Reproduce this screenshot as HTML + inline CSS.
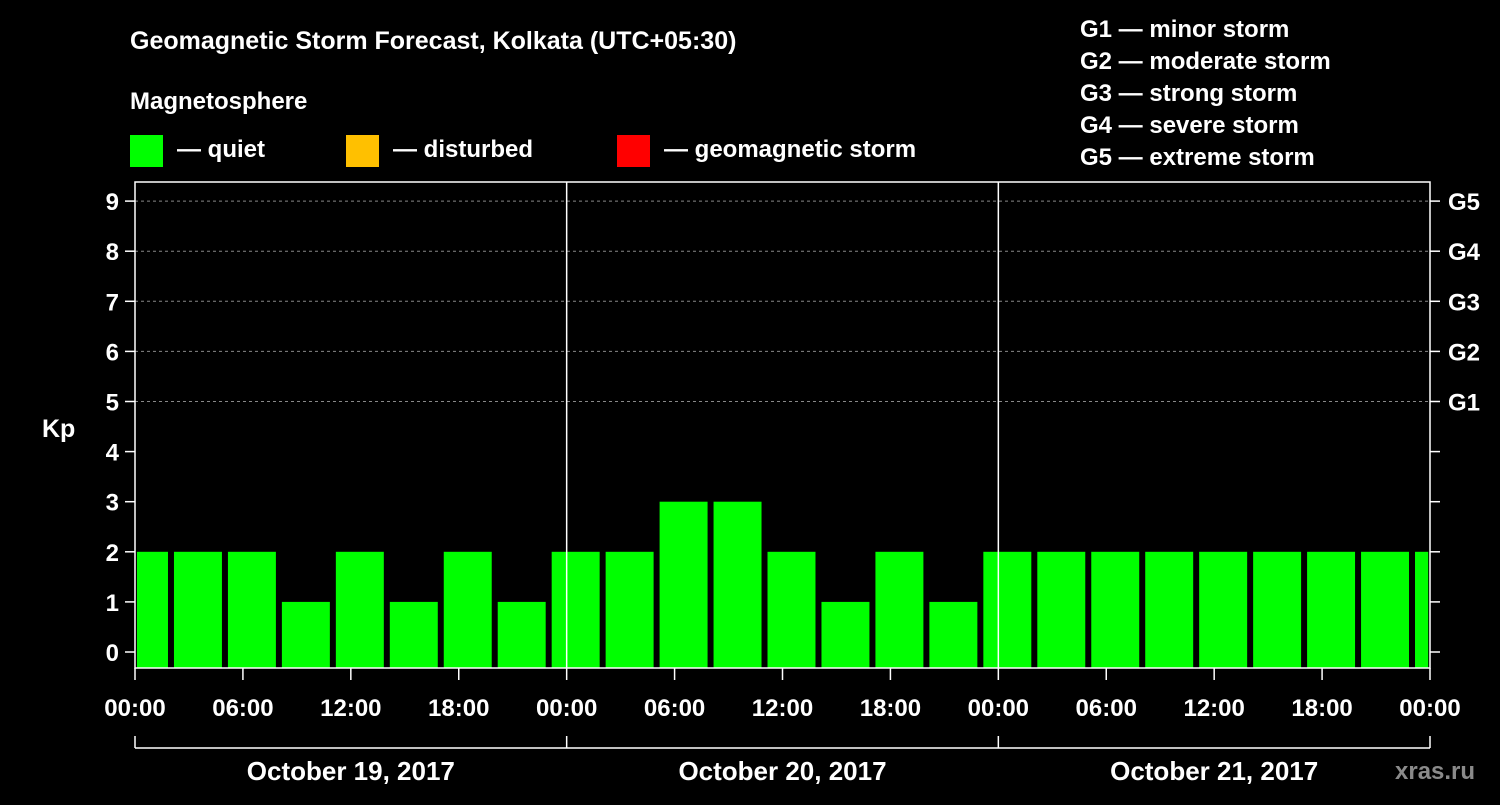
<!DOCTYPE html>
<html><head><meta charset="utf-8"><style>
body{margin:0;background:#000;width:1500px;height:800px;overflow:hidden}
svg text{font-family:"Liberation Sans",Arial,sans-serif;font-weight:bold;fill:#fff}
</style></head><body>
<svg id="c" width="1500" height="800" xmlns="http://www.w3.org/2000/svg">
<text x="130" y="49" font-size="25">Geomagnetic Storm Forecast, Kolkata (UTC+05:30)</text>
<text x="130" y="109" font-size="24">Magnetosphere</text>
<rect x="130" y="135" width="33" height="32" fill="#00ff00"/>
<text x="177" y="157" font-size="24">— quiet</text>
<rect x="346" y="135" width="33" height="32" fill="#ffc000"/>
<text x="393" y="157" font-size="24">— disturbed</text>
<rect x="617" y="135" width="33" height="32" fill="#ff0000"/>
<text x="664" y="157" font-size="24">— geomagnetic storm</text>
<g font-size="24">
<text x="1080" y="37">G1 — minor storm</text>
<text x="1080" y="69">G2 — moderate storm</text>
<text x="1080" y="101">G3 — strong storm</text>
<text x="1080" y="133">G4 — severe storm</text>
<text x="1080" y="165">G5 — extreme storm</text>
</g>
<text x="42" y="437" font-size="25">Kp</text>
<text x="1395" y="779" font-size="24" fill="#888" style="fill:#8a8a8a">xras.ru</text>
<g id="plot"></g>
</svg>
<script>
const kpValues=[2,2,2,1,2,1,2,1,2,2,3,3,2,1,2,1,2,2,2,2,2,2,2,2,2];
const yTicks=[0,1,2,3,4,5,6,7,8,9];
const gLabels=["G1","G2","G3","G4","G5"];
const gLevels=[5,6,7,8,9];
const xTickLabels=["00:00","06:00","12:00","18:00","00:00","06:00","12:00","18:00","00:00","06:00","12:00","18:00","00:00"];
const dateLabels=["October 19, 2017","October 20, 2017","October 21, 2017"];
const X0=135,X1=1430,HOURS=72;
const x=h=>X0+(X1-X0)*h/HOURS;
const y=v=>652-50.1*v;
const NS="http://www.w3.org/2000/svg";
const g=document.getElementById('plot');
function mk(t,a){const e=document.createElementNS(NS,t);for(const k in a)e.setAttribute(k,a[k]);g.appendChild(e);return e;}
// grid
gLevels.forEach(v=>{const e=mk('line',{x1:X0,x2:X1,y1:y(v),y2:y(v),stroke:'#888','stroke-dasharray':'3,3','stroke-width':1});

});
// bars
const bottom=668;
kpValues.forEach((v,i)=>{let h0=-0.8333+3*i,h1=h0+2.667;h0=Math.max(h0,0.11);h1=Math.min(h1,71.9);
const c=v>=5?'#ff0000':(v>=4?'#ffc000':'#00ff00');
const r=mk('rect',{x:x(h0),y:y(v),width:x(h1)-x(h0),height:bottom-y(v),fill:c});

});
// day separators
[24,48].forEach(h=>{const e=mk('line',{x1:x(h),x2:x(h),y1:182,y2:668,stroke:'#fff','stroke-width':1.5});

});
// frame
const f=mk('rect',{x:X0,y:182,width:X1-X0,height:486,fill:'none',stroke:'#fff','stroke-width':1.5});


// y ticks
yTicks.forEach(v=>{mk('line',{x1:X0-10,x2:X0,y1:y(v),y2:y(v),stroke:'#fff','stroke-width':1.5});
mk('line',{x1:X1,x2:X1+10,y1:y(v),y2:y(v),stroke:'#fff','stroke-width':1.5});
const t=mk('text',{x:X0-16,y:y(v)+9,'font-size':24,'text-anchor':'end'});t.textContent=v;

});
gLabels.forEach((l,i)=>{const t=mk('text',{x:X1+18,y:y(gLevels[i])+9,'font-size':24});t.textContent=l;

});
// x ticks
xTickLabels.forEach((l,i)=>{const h=i*6;mk('line',{x1:x(h),x2:x(h),y1:668,y2:680,stroke:'#fff','stroke-width':1.5});
const t=mk('text',{x:x(h),y:716,'font-size':24,'text-anchor':'middle'});t.textContent=l;

});
// date bracket
mk('line',{x1:X0,x2:X1,y1:748,y2:748,stroke:'#fff','stroke-width':1.5});
[0,24,48,72].forEach(h=>mk('line',{x1:x(h),x2:x(h),y1:736,y2:748,stroke:'#fff','stroke-width':1.5}));
dateLabels.forEach((l,i)=>{const t=mk('text',{x:x(i*24+12),y:780,'font-size':26,'text-anchor':'middle'});t.textContent=l;

});
</script>
</body></html>
